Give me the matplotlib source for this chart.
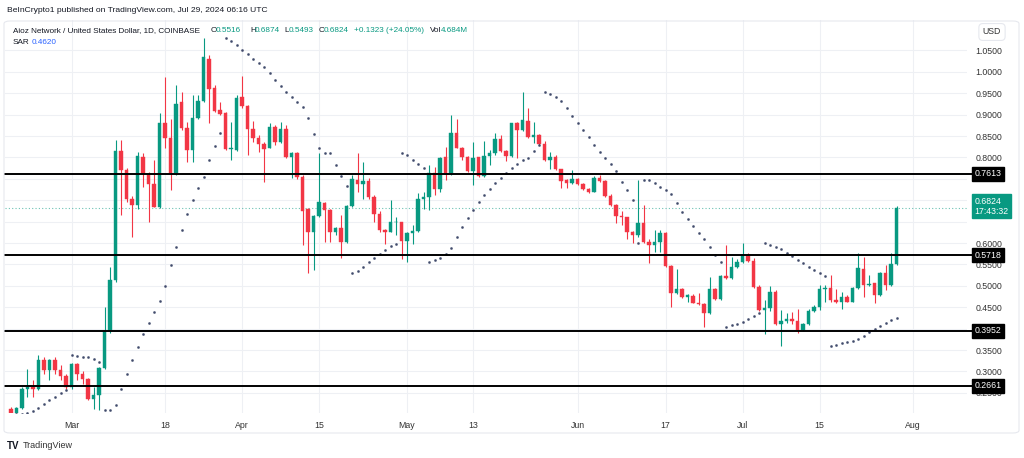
import numpy as np
import pandas as pd
import matplotlib
matplotlib.use("Agg")
import matplotlib.pyplot as plt
import matplotlib.dates as mdates
from matplotlib.transforms import blended_transform_factory
from matplotlib.patches import FancyBboxPatch

plt.rcParams["font.family"] = ["Liberation Sans", "DejaVu Sans"]

# daily AIOZ/USD candles, Feb 19 - Jul 29 2024
dates = pd.date_range("2024-02-19", "2024-07-29", freq="D")
opens = [.213, .204, .214, .259, .263, .259, .327, .3025, .327, .3025,
         .290, .263, .3165, .2947, .283, .2363, .246, .308, .394, .513,
         .815, .771, .704, .688, .80, .762, .739, .685, .88, .845,
         .763, .929, .868, .817, .893, .932, 1.031, .963, .911, .903,
         .82, .8174, .94, .919, .8657, .846, .8306, .823, .8704, .837,
         .8665, .802, .811, .755, .679, .6265, .664, .693, .677, .6265,
         .636, .603, .687, .747, .738, .744, .707, .667, .63, .626,
         .648, .65, .605, .624, .629, .703, .707, .763, .726, .80,
         .763, .856, .823, .802, .768, .80, .7574, .804, .8096, .843,
         .815, .804, .8797, .864, .885, .8485, .852, .8306, .794, .80,
         .772, .747, .7395, .75, .737, .727, .72, .753, .745, .711,
         .69, .664, .66, .625, .619, .646, .603, .5954, .6032, .6242,
         .5463, .484, .4933, .4746, .477, .4606, .4567, .4372, .4918, .4684,
         .523, .5175, .5447, .5564, .570, .5588, .498, .4435, .4473, .4863,
         .4108, .4186, .4225, .4186, .3965, .4098, .4417, .4495, .4923, .4948,
         .4666, .4627, .4744, .4627, .4939, .539, .5017, .5056, .4783, .5305,
         .5017, .5516]
highs = [.216, .218, .263, .306, .279, .3375, .333, .330, .333, .314,
         .295, .320, .320, .302, .285, .263, .311, .4505, .544, .84,
         .84, .775, .71, .813, .81, .765, .793, .903, .989, .89,
         .97, .953, .883, .946, .946, 1.078, 1.04, .97, .93, .907,
         .8836, .946, .99, .923, .884, .852, .837, .8797, .876, .8836,
         .876, .8135, .8135, .759, .681, .666, .81, .697, .68, .638,
         .665, .689, .759, .81, .789, .751, .712, .675, .633, .700,
         .66, .65, .626, .642, .718, .72, .782, .778, .802, .825,
         .899, .89, .825, .804, .837, .80, .8384, .8174, .8563, .852,
         .8174, .881, .882, .952, .9163, .883, .854, .838, .813, .806,
         .774, .75, .77, .751, .741, .729, .757, .759, .747, .714,
         .692, .675, .662, .627, .747, .689, .61, .6304, .63, .626,
         .548, .5385, .4956, .482, .482, .484, .46, .5213, .494, .525,
         .5954, .568, .562, .599, .576, .566, .502, .4668, .4995, .49,
         .4435, .4373, .439, .445, .414, .445, .455, .5017, .5017, .525,
         .4916, .486, .4784, .4963, .5773, .568, .525, .507, .533, .5484,
         .5773, .6874]
lows = [.200, .202, .212, .240, .240, .257, .295, .279, .295, .279,
        .259, .259, .279, .271, .234, .213, .209, .306, .389, .51,
        .665, .697, .614, .68, .73, .649, .684, .683, .821, .724,
        .76, .864, .79, .79, .8898, .93, .88, .907, .899, .8174,
        .794, .815, .915, .806, .837, .8135, .743, .821, .829, .833,
        .798, .751, .75, .5954, .529, .537, .66, .603, .603, .619,
        .564, .601, .684, .72, .704, .704, .648, .626, .597, .626,
        .619, .563, .556, .597, .626, .68, .677, .712, .72, .747,
        .76, .821, .794, .765, .736, .755, .755, .782, .805, .813,
        .791, .802, .799, .862, .846, .833, .829, .792, .774, .77,
        .729, .728, .737, .736, .724, .716, .72, .743, .708, .687,
        .646, .642, .61, .600, .615, .601, .5525, .5798, .58, .545,
        .4513, .482, .471, .463, .459, .455, .4045, .434, .466, .466,
        .516, .515, .5408, .554, .556, .496, .442, .3874, .442, .4084,
        .3593, .4123, .4108, .389, .395, .4077, .439, .4433, .4627, .4627,
        .4604, .447, .462, .4627, .4916, .4744, .50, .4589, .4767, .490,
        .4995, .5493]
closes = [.204, .214, .2596, .263, .259, .327, .3025, .327, .3025, .290,
          .263, .3165, .2947, .283, .2363, .246, .308, .394, .513, .815,
          .771, .704, .688, .8026, .762, .739, .685, .8797, .8447, .763,
          .925, .868, .817, .893, .932, 1.034, .96, .908, .901, .82,
          .823, .938, .919, .8657, .846, .8306, .82, .8704, .837, .8665,
          .802, .811, .755, .676, .625, .664, .695, .677, .6265, .636,
          .603, .6873, .749, .738, .744, .7068, .667, .630, .626, .6483,
          .65, .605, .624, .629, .703, .707, .763, .726, .7995, .763,
          .8563, .823, .802, .768, .798, .7574, .8041, .8096, .843, .815,
          .804, .8797, .864, .8875, .8485, .852, .8306, .794, .80, .772,
          .745, .7395, .75, .737, .7262, .72, .7527, .745, .7107, .69,
          .664, .66, .625, .619, .646, .6032, .5954, .6032, .6242, .5463,
          .484, .4933, .4746, .4777, .4606, .4567, .4372, .4918, .4684, .523,
          .5175, .5447, .5564, .572, .5588, .498, .4435, .4473, .4863, .4108,
          .4186, .4225, .4186, .3965, .4098, .4417, .4495, .4923, .4948, .4666,
          .4627, .4744, .4627, .4939, .5406, .5017, .5041, .4783, .5305, .5017,
          .5516, .6824]

levels = [0.7613, 0.5718, 0.3952, 0.2661]
last_price = 0.6824
countdown = "17:43:32"
price_ticks = np.round(np.arange(0.25, 1.0501, 0.05), 2)
hidden_ticks = [0.40, 0.65, 0.70, 0.75]   # covered by the price boxes
tick_dates = ["2024-03-01", "2024-03-18", "2024-04-01", "2024-04-15", "2024-05-01",
              "2024-05-13", "2024-06-01", "2024-06-17", "2024-07-01", "2024-07-15",
              "2024-08-01"]
tick_names = ["Mar", "18", "Apr", "15", "May", "13", "Jun", "17", "Jul", "15", "Aug"]

GREEN = "#089981"
RED = "#f23645"
TXT = "#131722"


def pine_sar(h, l, c, start=0.02, inc=0.02, amax=0.2):
    # port of TradingView's ta.sar
    n = len(h)
    out = np.full(n, np.nan)
    res = mm = acc = None
    below = False
    for i in range(1, n):
        first = False
        if i == 1:
            if c[1] > c[0]:
                below, mm, res = True, h[1], l[0]
            else:
                below, mm, res = False, l[1], h[0]
            first = True
            acc = start
        res = res + acc * (mm - res)
        if below:
            if res > l[i]:
                first, below = True, False
                res = max(h[i], mm)
                mm, acc = l[i], start
        else:
            if res < h[i]:
                first, below = True, True
                res = min(l[i], mm)
                mm, acc = h[i], start
        if not first:
            if below and h[i] > mm:
                mm, acc = h[i], min(acc + inc, amax)
            elif not below and l[i] < mm:
                mm, acc = l[i], min(acc + inc, amax)
        if below:
            res = min(res, l[i - 1])
            if i > 1:
                res = min(res, l[i - 2])
        else:
            res = max(res, h[i - 1])
            if i > 1:
                res = max(res, h[i - 2])
        out[i] = res
    return out


o = np.array(opens)
h = np.array(highs)
l = np.array(lows)
c = np.array(closes)
x = mdates.date2num(dates)
sar = pine_sar(h, l, c)

W, H = 1024, 458
fig = plt.figure(figsize=(W / 100, H / 100), dpi=100)
fig.patch.set_facecolor("white")
ax = fig.add_axes([5 / W, 45 / H, 962 / W, 393 / H])

cols = np.where(c >= o, GREEN, RED)
ax.vlines(x, l, h, colors=cols, linewidth=0.8, zorder=3)
ax.bar(x, np.maximum(np.abs(c - o), 0.0018), bottom=np.minimum(o, c), width=0.62,
       color=cols, edgecolor=cols, linewidth=0.3, zorder=4)
ax.plot(x, sar, linestyle="none", marker="o", markersize=1.0, color="#3a4466",
        alpha=0.8, zorder=5)

ax.set_xlim(x[0] - 1.09, x[0] + 173.8)
ax.set_ylim(0.203, 1.121)

for lv in levels:
    ax.axhline(lv, xmin=0, xmax=1.005, color="black", linewidth=1.4, zorder=6, clip_on=False)
ax.axhline(last_price, color=GREEN, linewidth=0.8, linestyle=(0, (1, 2)), alpha=0.6, zorder=2)

ax.set_xticks(mdates.date2num(pd.to_datetime(tick_dates)))
ax.set_xticklabels(tick_names)
ax.set_yticks(price_ticks)
ax.set_yticklabels(["" if v in hidden_ticks else f"{v:.4f}" for v in price_ticks])
ax.yaxis.tick_right()
ax.tick_params(axis="y", length=0, pad=6, labelsize=6.3, labelcolor="#333333")
ax.tick_params(axis="x", length=0, pad=6, labelsize=6.3, labelcolor="#333333")
ax.grid(True, color="#eef0f4", linewidth=0.8)
ax.set_axisbelow(True)
for s in ax.spines.values():
    s.set_visible(False)

tr = blended_transform_factory(ax.transAxes, ax.transData)
for lv in levels:
    ax.text(1.0075, lv, f"{lv:.4f}", transform=tr, ha="left", va="center", color="white",
            fontsize=6.3, zorder=10, clip_on=False,
            bbox=dict(boxstyle="square,pad=0.3", fc="black", ec="black"))
ax.text(1.0075, last_price + 0.004, f"{last_price:.4f}\n{countdown}", transform=tr,
        ha="left", va="center", color="white", fontsize=6.3, linespacing=1.15,
        zorder=10, clip_on=False,
        bbox=dict(boxstyle="square,pad=0.3", fc=GREEN, ec=GREEN))

# pane frame and USD box
fig.add_artist(FancyBboxPatch((4 / W, 25 / H), 1015 / W, 412 / H,
                              boxstyle="round,pad=0,rounding_size=0.006",
                              transform=fig.transFigure, fc="none", ec="#e6e8ee", lw=0.8))
fig.text(992 / W, 1 - 32 / H, "USD", ha="center", va="center", fontsize=6.3, color="#333333",
         bbox=dict(boxstyle="round,pad=0.45", fc="white", ec="#e6e8ee", lw=0.8))

# header
fig.text(7 / W, 1 - 10 / H, "BeInCrypto1 published on TradingView.com, Jul 29, 2024 06:16 UTC",
         fontsize=6.1, color=TXT, va="center")
ly = 1 - 31 / H
fs = 5.9
fig.text(13 / W, ly, "Aioz Network / United States Dollar, 1D, COINBASE", fontsize=fs,
         color=TXT, va="center")
for px, key, val in [(211, "O", "0.5516"), (250, "H", "0.6874"), (284, "L", "0.5493"),
                     (319, "C", "0.6824")]:
    fig.text(px / W, ly, key, fontsize=fs, color=TXT, va="center")
    fig.text((px + 5) / W, ly, val, fontsize=fs, color=GREEN, va="center")
fig.text(354 / W, ly, "+0.1323 (+24.05%)", fontsize=fs, color=GREEN, va="center")
fig.text(430 / W, ly, "Vol", fontsize=fs, color=TXT, va="center")
fig.text(441 / W, ly, "4.684M", fontsize=fs, color=GREEN, va="center")
fig.text(13 / W, 1 - 43 / H, "SAR", fontsize=fs, color=TXT, va="center")
fig.text(32 / W, 1 - 43 / H, "0.4620", fontsize=fs, color="#2962ff", va="center")

# footer logo
fig.text(7 / W, 1 - 446 / H, "TV", fontsize=7, fontweight="bold", color=TXT, va="center")
fig.text(23 / W, 1 - 446 / H, "TradingView", fontsize=6.5, color="#333333", va="center")

fig.savefig("out.png", dpi=100, facecolor="white")
